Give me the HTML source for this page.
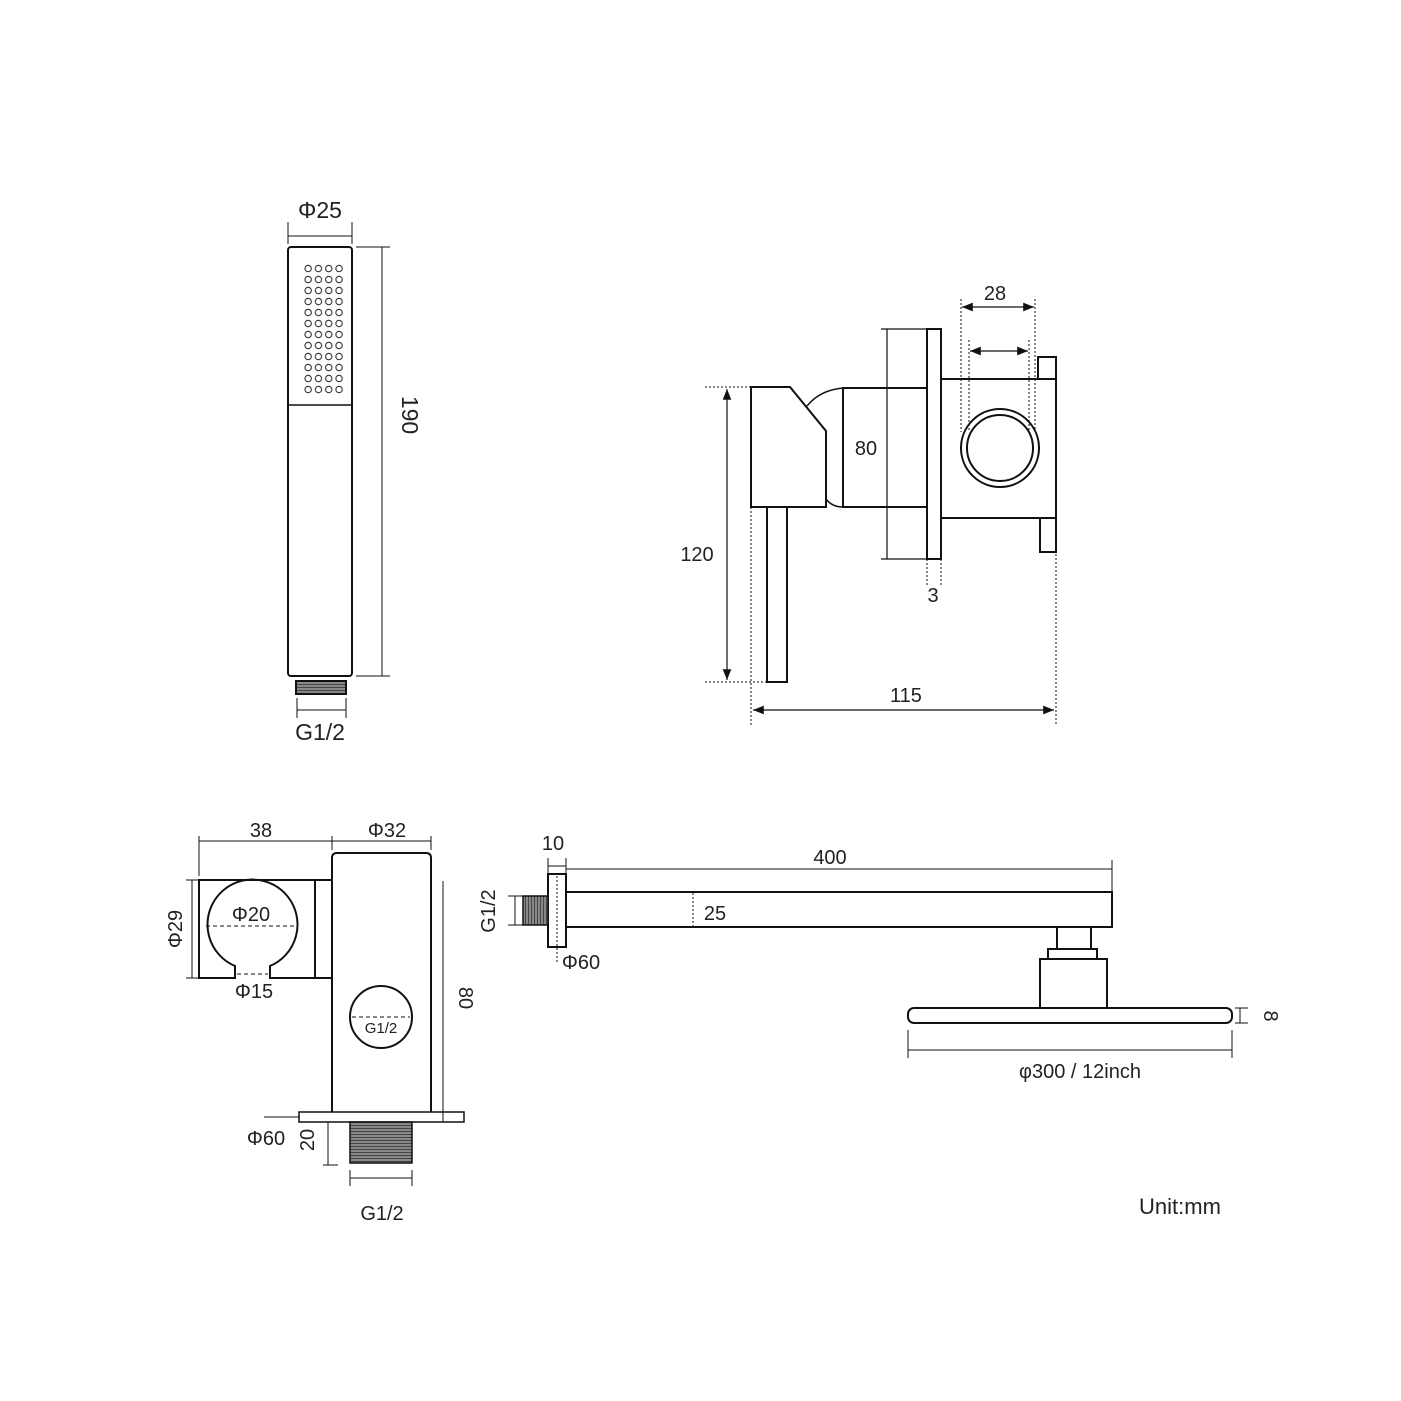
<!DOCTYPE html>
<html><head><meta charset="utf-8"><style>
html,body{margin:0;padding:0;background:#fff}
svg{display:block}
text{font-family:"Liberation Sans",sans-serif;fill:#222}
</style></head><body>
<svg width="1401" height="1401" viewBox="0 0 1401 1401" xmlns="http://www.w3.org/2000/svg">
<defs>
<marker id="a" viewBox="0 0 10 10" refX="10" refY="5" markerWidth="9" markerHeight="9" orient="auto-start-reverse"><path d="M0,1 L10,5 L0,9 Z" fill="#111"/></marker>
<pattern id="thr" width="4" height="3" patternUnits="userSpaceOnUse"><rect width="4" height="3" fill="#888"/><rect width="4" height="1" fill="#444"/></pattern>
<pattern id="thrv" width="3" height="4" patternUnits="userSpaceOnUse"><rect width="3" height="4" fill="#888"/><rect width="1" height="4" fill="#444"/></pattern>
<pattern id="dot" x="303" y="263" width="10.3" height="11" patternUnits="userSpaceOnUse"><circle cx="5.15" cy="5.5" r="3.2" fill="none" stroke="#333" stroke-width="1.1"/></pattern>
</defs>
<rect x="303" y="263" width="41.2" height="132" fill="url(#dot)"/>
<g fill="none" stroke="#111" stroke-width="2">
<!-- Hand shower -->
<rect x="288" y="247" width="64" height="429" rx="3"/>
<line x1="288" y1="405" x2="352" y2="405" stroke-width="1.5"/>
<rect x="296" y="681" width="50" height="13" fill="url(#thr)"/>
<line x1="300" y1="676" x2="342" y2="676"/>
<g stroke-width="1"><line x1="288" y1="222" x2="288" y2="244"/><line x1="352" y1="222" x2="352" y2="244"/><line x1="288" y1="236" x2="352" y2="236"/>
<line x1="356" y1="247" x2="390" y2="247"/><line x1="356" y1="676" x2="390" y2="676"/><line x1="382" y1="247" x2="382" y2="676"/>
<line x1="297" y1="698" x2="297" y2="718"/><line x1="346" y1="698" x2="346" y2="718"/><line x1="297" y1="710" x2="346" y2="710"/></g>

<!-- Mixer -->
<path d="M751,387 L790,387 L826,431 L826,507 L751,507 Z"/>
<rect x="767" y="507" width="20" height="175"/>
<path d="M807,406 Q820,390 843,388 M826,499 Q832,507 843,507" stroke-width="1.5"/>
<rect x="843" y="388" width="84" height="119"/>
<rect x="927" y="329" width="14" height="230"/>
<rect x="941" y="379" width="115" height="139"/>
<rect x="1038" y="357" width="18" height="22"/>
<rect x="1040" y="518" width="16" height="34"/>
<circle cx="1000" cy="448" r="39"/><circle cx="1000" cy="448" r="33"/>
<g stroke-width="1.2"><line x1="887" y1="329" x2="887" y2="559"/><line x1="881" y1="329" x2="927" y2="329"/><line x1="881" y1="559" x2="927" y2="559"/></g>
<g stroke-width="1" stroke-dasharray="2,2">
<line x1="961" y1="299" x2="961" y2="432"/><line x1="1035" y1="299" x2="1035" y2="432"/>
<line x1="969" y1="340" x2="969" y2="432"/><line x1="1029" y1="340" x2="1029" y2="432"/>
<line x1="927" y1="559" x2="927" y2="585"/><line x1="941" y1="559" x2="941" y2="585"/>
<line x1="705" y1="387" x2="751" y2="387"/><line x1="705" y1="682" x2="767" y2="682"/>
<line x1="751" y1="507" x2="751" y2="725"/><line x1="1056" y1="518" x2="1056" y2="725"/>
</g>
<g stroke-width="1.2">
<line x1="962" y1="307" x2="1034" y2="307" marker-start="url(#a)" marker-end="url(#a)"/>
<line x1="970" y1="351" x2="1028" y2="351" marker-start="url(#a)" marker-end="url(#a)"/>
<line x1="727" y1="389" x2="727" y2="680" marker-start="url(#a)" marker-end="url(#a)"/>
<line x1="753" y1="710" x2="1054" y2="710" marker-start="url(#a)" marker-end="url(#a)"/>
</g>

<!-- Bracket -->
<path d="M332,880 L199,880 L199,978 L235,978 L235,966 A45,45 0 1 1 270,966 L270,978 L332,978"/>
<line x1="315" y1="880" x2="315" y2="978"/>
<path d="M332,1112 L332,858 Q332,853 337,853 L426,853 Q431,853 431,858 L431,1112"/>
<circle cx="381" cy="1017" r="31"/>
<rect x="299" y="1112" width="165" height="10" stroke-width="1.5"/>
<rect x="350" y="1122" width="62" height="41" fill="url(#thr)" stroke-width="1.5"/>
<g stroke-width="1" stroke-dasharray="4,3"><line x1="206" y1="926" x2="296" y2="926"/><line x1="237" y1="974" x2="268" y2="974"/><line x1="352" y1="1017" x2="410" y2="1017"/></g>
<g stroke-width="1">
<line x1="199" y1="836" x2="199" y2="876"/><line x1="332" y1="836" x2="332" y2="850"/><line x1="431" y1="836" x2="431" y2="850"/><line x1="199" y1="841" x2="431" y2="841"/>
<line x1="186" y1="880" x2="199" y2="880"/><line x1="186" y1="978" x2="199" y2="978"/><line x1="192" y1="880" x2="192" y2="978"/>
<line x1="443" y1="881" x2="443" y2="1122"/>
<line x1="264" y1="1117" x2="299" y2="1117"/><line x1="328" y1="1122" x2="328" y2="1165"/><line x1="323" y1="1165" x2="338" y2="1165"/>
<line x1="350" y1="1170" x2="350" y2="1186"/><line x1="412" y1="1170" x2="412" y2="1186"/><line x1="350" y1="1178" x2="412" y2="1178"/>
</g>

<!-- Arm -->
<rect x="548" y="874" width="18" height="73"/>
<rect x="523" y="896" width="25" height="29" fill="url(#thrv)" stroke-width="1.5"/>
<path d="M566,892 L1112,892 L1112,927 L566,927"/>
<rect x="1057" y="927" width="34" height="22"/>
<rect x="1048" y="949" width="49" height="10"/>
<rect x="1040" y="959" width="67" height="49"/>
<rect x="908" y="1008" width="324" height="15" rx="6"/>
<g stroke-width="1" stroke-dasharray="2,2"><line x1="693" y1="893" x2="693" y2="927"/><line x1="557" y1="876" x2="557" y2="964"/></g>
<g stroke-width="1">
<line x1="548" y1="858" x2="548" y2="874"/><line x1="566" y1="858" x2="566" y2="874"/><line x1="548" y1="866" x2="566" y2="866"/>
<line x1="566" y1="869" x2="1112" y2="869"/><line x1="1112" y1="860" x2="1112" y2="892"/>
<line x1="515" y1="896" x2="515" y2="925"/><line x1="508" y1="896" x2="523" y2="896"/><line x1="508" y1="925" x2="523" y2="925"/>
<line x1="1240" y1="1008" x2="1240" y2="1023"/><line x1="1235" y1="1008" x2="1248" y2="1008"/><line x1="1235" y1="1023" x2="1248" y2="1023"/>
<line x1="908" y1="1030" x2="908" y2="1058"/><line x1="1232" y1="1030" x2="1232" y2="1058"/><line x1="908" y1="1050" x2="1232" y2="1050"/>
</g>
</g>
<!-- Text -->
<g font-size="23">
<text x="320" y="218" text-anchor="middle">Φ25</text>
<text x="402" y="415" text-anchor="middle" transform="rotate(90 402 415)">190</text>
<text x="320" y="740" text-anchor="middle">G1/2</text>
</g>
<g font-size="20">
<text x="995" y="300" text-anchor="middle">28</text>
<text x="866" y="455" text-anchor="middle">80</text>
<text x="933" y="602" text-anchor="middle">3</text>
<text x="697" y="561" text-anchor="middle">120</text>
<text x="906" y="702" text-anchor="middle">115</text>
<text x="261" y="837" text-anchor="middle">38</text>
<text x="387" y="837" text-anchor="middle">Φ32</text>
<text x="182" y="929" text-anchor="middle" transform="rotate(-90 182 929)">Φ29</text>
<text x="251" y="921" text-anchor="middle">Φ20</text>
<text x="254" y="998" text-anchor="middle">Φ15</text>
<text x="459" y="998" text-anchor="middle" transform="rotate(90 459 998)">80</text>
<text x="266" y="1145" text-anchor="middle">Φ60</text>
<text x="314" y="1140" text-anchor="middle" transform="rotate(-90 314 1140)">20</text>
<text x="382" y="1220" text-anchor="middle">G1/2</text>
<text x="553" y="850" text-anchor="middle">10</text>
<text x="830" y="864" text-anchor="middle">400</text>
<text x="715" y="920" text-anchor="middle">25</text>
<text x="495" y="911" text-anchor="middle" transform="rotate(-90 495 911)">G1/2</text>
<text x="581" y="969" text-anchor="middle">Φ60</text>
<text x="1264" y="1016" text-anchor="middle" transform="rotate(90 1264 1016)">8</text>
<text x="1080" y="1078" text-anchor="middle">φ300 / 12inch</text>
</g>
<text x="381" y="1033" font-size="15" text-anchor="middle">G1/2</text>
<text x="1180" y="1214" font-size="22" text-anchor="middle">Unit:mm</text>
</svg>
</body></html>
